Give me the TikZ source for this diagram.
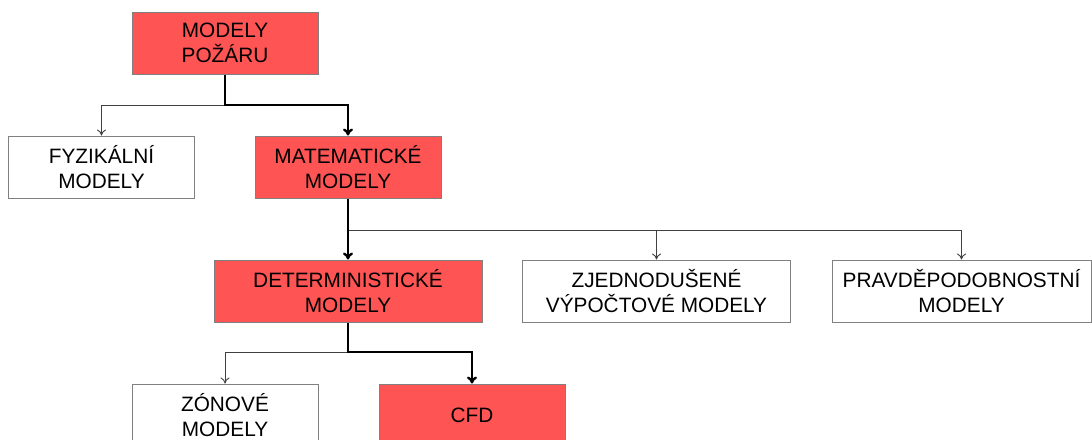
\documentclass[tikz,border=0pt]{standalone}
\usepackage{fontspec}
\setmainfont{Liberation Sans}
\usetikzlibrary{arrows.meta}
\definecolor{firered}{RGB}{255,84,84}
\definecolor{boxgray}{RGB}{128,128,128}

\begin{document}
\begin{tikzpicture}[x=0.5pt, y=-0.5pt,
    every node/.style={draw=boxgray, line width=0.5pt, inner sep=0pt, align=center,
        font=\fontsize{10.4}{12.5}\selectfont, minimum height=31pt},
    redbox/.style={fill=firered, minimum width=93pt},
    whitebox/.style={fill=white, minimum width=93pt},
    widered/.style={fill=firered, minimum width=134pt},
    widebox/.style={fill=white, minimum width=134pt},
    thinlink/.style={draw=black!75, line width=0.45pt, -{To[length=3pt,width=4.5pt]}},
    thicklink/.style={draw=black, line width=1.2pt, -{To[length=3.5pt,width=5pt]}}]

\clip (0,0) rectangle (1092,439);

\node[redbox] (pozar) at (225,43) {MODELY\\POŽÁRU};
\node[whitebox] (fyz) at (101.5,167) {FYZIKÁLNÍ\\MODELY};
\node[redbox] (mat) at (348,167) {MATEMATICKÉ\\MODELY};
\node[widered] (det) at (348,291) {DETERMINISTICKÉ\\MODELY};
\node[widebox] (zjed) at (656.5,291) {ZJEDNODUŠENÉ\\VÝPOČTOVÉ MODELY};
\node[widebox, minimum width=129.5pt] (prav) at (961.5,291) {PRAVDĚPODOBNOSTNÍ\\MODELY};
\node[whitebox] (zon) at (225,415) {ZÓNOVÉ\\MODELY};
\node[redbox] (cfd) at (472,415) {CFD};

% junctions
\coordinate (j1) at (225,105);
\coordinate (j2) at (348,230);
\coordinate (j3) at (348,352);

\draw[thinlink] (j1) -| (fyz.north);
\draw[thicklink] (pozar.south) -- (j1) -| (mat.north);

\draw[thinlink] (j2) -| (zjed.north);
\draw[thinlink] (j2) -| (prav.north);
\draw[thicklink] (mat.south) -- (det.north);

\draw[thinlink] (j3) -| (zon.north);
\draw[thicklink] (det.south) -- (j3) -| (cfd.north);
\end{tikzpicture}
\end{document}
